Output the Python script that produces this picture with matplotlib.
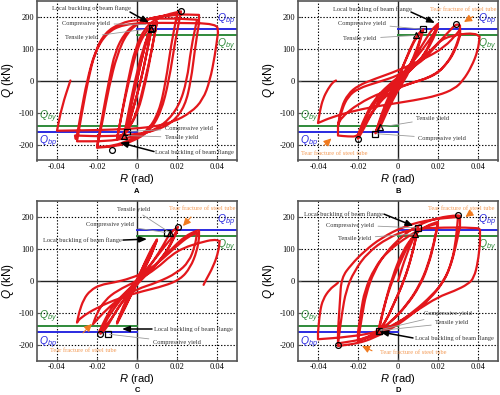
import matplotlib
matplotlib.use('Agg')
import matplotlib.pyplot as plt
from matplotlib.path import Path
from matplotlib.patches import PathPatch

plt.rcParams['mathtext.fontset'] = 'custom'
plt.rcParams['mathtext.it'] = 'Liberation Sans:italic'
plt.rcParams['mathtext.rm'] = 'Liberation Sans'
plt.rcParams['mathtext.bf'] = 'Liberation Sans:bold'

SERIF = 'Liberation Serif'
SANS = 'Liberation Sans'

x_ticks = [-0.04, -0.02, 0, 0.02, 0.04]
x_tick_labels = ['-0.04', '-0.02', '0', '0.02', '0.04']
y_ticks = [-200, -100, 0, 100, 200]
y_tick_labels = ['-200', '-100', '0', '100', '200']
Q_bp = 160
Q_by = 142

# ---- hysteresis paths (R rad, Q kN) ----
A_path = [
    (0, 0), (0.003, 85), (0.006, 155), (0.0075, 167),
    (0.005, 90), (0.002, 0), (-0.002, -90), (-0.005, -160),
    (-0.003, -80), (0.0, 0), (0.003, 85), (0.0065, 160), (0.0075, 170),
    (0.005, 90), (0.002, 0), (-0.002, -90), (-0.005, -155), (-0.0065, -172),
    (-0.004, -90), (-0.001, 0), (0.003, 100), (0.007, 165), (0.01, 185),
    (0.0075, 100), (0.004, 0), (0.0, -100), (-0.005, -160), (-0.01, -185),
    (-0.0075, -100), (-0.004, 0), (0.0, 100), (0.005, 160), (0.01, 183),
    (0.0075, 100), (0.0045, 0), (0.0005, -100), (-0.005, -158), (-0.01, -182),
    (-0.0075, -100), (-0.0045, 0), (-0.001, 100), (0.004, 165), (0.01, 195), (0.016, 208), (0.022, 216),
    (0.019, 120), (0.016, 0), (0.012, -100), (0.006, -160), (-0.002, -190), (-0.01, -205), (-0.02, -210),
    (-0.017, -120), (-0.014, -20), (-0.01, 80), (-0.005, 150), (0.002, 185), (0.01, 200), (0.02, 205),
    (0.017, 110), (0.0145, 0), (0.011, -100), (0.005, -160), (-0.003, -185), (-0.012, -205), (-0.02, -208),
    (-0.017, -100), (-0.014, 0), (-0.011, 90), (-0.006, 150), (0.0, 180), (0.01, 200), (0.02, 207), (0.031, 205),
    (0.031, 180), (0.029, 100), (0.027, 0), (0.024, -80), (0.018, -130), (0.01, -155), (0.0, -168),
    (-0.015, -175), (-0.031, -172), (-0.0305, -190),
    (-0.028, -100), (-0.025, 0), (-0.021, 90), (-0.016, 150), (-0.008, 180), (0.0, 190), (0.015, 195), (0.03, 190),
    (0.027, 100), (0.025, 0), (0.021, -80), (0.014, -135), (0.005, -165), (-0.005, -180), (-0.015, -190), (-0.03, -190),
    (-0.0275, -100), (-0.0245, 0), (-0.021, 90), (-0.015, 150), (-0.007, 175), (0.005, 180), (0.02, 180), (0.04, 178),
    (0.0405, 150), (0.039, 80), (0.0365, 0), (0.033, -60), (0.027, -100), (0.018, -130), (0.008, -145),
    (-0.005, -152), (-0.02, -155), (-0.04, -157),
    (-0.0375, -80), (-0.0333, 0),
]

B_path = [
    (0, 0), (0.004, 70), (0.0092, 141), (0.0127, 160),
    (0.010, 100), (0.006, 30), (0.0, -30), (-0.005, -90), (-0.0089, -146), (-0.0113, -165),
    (-0.008, -100), (-0.004, -40), (0.0, 10), (0.005, 80), (0.009, 135), (0.0125, 158),
    (0.009, 90), (0.004, 20), (-0.002, -40), (-0.007, -110), (-0.011, -160),
    (-0.008, -110), (-0.004, -50), (0.002, 10), (0.008, 70), (0.013, 120), (0.017, 160), (0.02, 177),
    (0.017, 130), (0.013, 80), (0.008, 40), (0.0, 0), (-0.007, -40), (-0.013, -100), (-0.017, -150), (-0.02, -182),
    (-0.017, -130), (-0.013, -80), (-0.006, -30), (0.002, 20), (0.009, 70), (0.015, 120), (0.02, 168),
    (0.017, 120), (0.012, 70), (0.005, 25), (-0.003, -20), (-0.01, -70), (-0.016, -130), (-0.02, -170),
    (-0.017, -120), (-0.012, -60), (-0.005, -15), (0.004, 30), (0.012, 70), (0.019, 110), (0.025, 150),
    (0.029, 177), (0.031, 172),
    (0.031, 146), (0.0283, 94), (0.0233, 42), (0.0167, 10), (0.005, -10), (-0.005, -40), (-0.012, -90),
    (-0.017, -140), (-0.02, -175), (-0.025, -175), (-0.03, -172),
    (-0.03, -140), (-0.0283, -83), (-0.025, -42), (-0.02, -16), (-0.0117, 5), (0.0, 31), (0.0133, 68),
    (0.0233, 104), (0.03, 150), (0.031, 160),
    (0.031, 140), (0.029, 100), (0.025, 55), (0.018, 15), (0.005, -12), (-0.008, -36), (-0.02, -73),
    (-0.0283, -115), (-0.03, -140),
    (-0.028, -90), (-0.025, -50), (-0.02, -25), (-0.01, -5), (0.0, 15), (0.01, 50), (0.0167, 90),
    (0.0217, 130), (0.03, 144), (0.0383, 148), (0.0408, 137), (0.04, 94), (0.0367, 42), (0.0325, 0),
    (0.0283, -26), (0.02, -47), (0.0083, -62), (-0.0083, -78), (-0.0217, -94), (-0.0333, -115), (-0.04, -133),
    (-0.039, -94), (-0.0375, -57), (-0.035, -26), (-0.0325, -5), (-0.031, 0),
]

C_path = [
    (0, 0), (0.004, 60), (0.008, 110), (0.01, 130),
    (0.007, 80), (0.003, 30), (-0.002, -30), (-0.006, -80), (-0.01, -130),
    (-0.007, -80), (-0.003, -30), (0.002, 30), (0.006, 80), (0.01, 128),
    (0.007, 80), (0.003, 30), (-0.002, -30), (-0.006, -85), (-0.01, -133),
    (-0.007, -90), (-0.003, -40), (0.002, 10), (0.008, 60), (0.013, 110), (0.0165, 150), (0.0205, 169),
    (0.018, 130), (0.014, 85), (0.008, 40), (0.0, -10), (-0.007, -60), (-0.012, -110), (-0.0155, -150), (-0.0183, -165),
    (-0.016, -130), (-0.012, -90), (-0.006, -40), (0.001, 10), (0.008, 60), (0.014, 110), (0.02, 155),
    (0.017, 115), (0.013, 75), (0.006, 30), (-0.002, -20), (-0.009, -80), (-0.014, -130), (-0.019, -160),
    (-0.016, -120), (-0.012, -75), (-0.005, -30), (0.003, 15), (0.011, 60), (0.018, 105), (0.024, 140),
    (0.03, 158), (0.031, 158),
    (0.031, 135), (0.03, 94), (0.0267, 42), (0.0217, 5), (0.0133, -16), (0.0033, -31), (-0.0083, -52),
    (-0.02, -83), (-0.0283, -115), (-0.03, -130),
    (-0.029, -99), (-0.0267, -57), (-0.0233, -29), (-0.0183, -12), (-0.0117, -5), (-0.0033, 8), (0.005, 30),
    (0.013, 70), (0.02, 110), (0.026, 140), (0.03, 150),
    (0.029, 110), (0.026, 60), (0.02, 25), (0.01, -5), (0.0, -25), (-0.01, -60), (-0.017, -100), (-0.022, -135),
    (-0.02, -100), (-0.016, -60), (-0.01, -30), (0.0, 0), (0.01, 40), (0.017, 80), (0.0233, 104),
    (0.0317, 120), (0.0383, 130), (0.0413, 125), (0.0408, 94), (0.0383, 47), (0.0342, 0), (0.0333, -12),
]

D_path = [
    (0, 0), (0.004, 80), (0.0087, 147), (0.01, 166),
    (0.007, 80), (0.003, 0), (-0.002, -70), (-0.006, -125), (-0.0095, -155),
    (-0.007, -80), (-0.003, 0), (0.002, 70), (0.006, 125), (0.01, 163),
    (0.007, 80), (0.003, 0), (-0.002, -70), (-0.006, -125), (-0.01, -158),
    (-0.007, -80), (-0.003, 10), (0.002, 90), (0.008, 145), (0.014, 172), (0.02, 185),
    (0.018, 120), (0.015, 50), (0.011, -10), (0.005, -70), (-0.003, -125), (-0.011, -165), (-0.02, -185),
    (-0.02, -160), (-0.0185, -94), (-0.0167, -31), (-0.0117, 42), (-0.005, 94), (0.005, 140), (0.013, 168), (0.02, 180),
    (0.018, 115), (0.015, 45), (0.011, -15), (0.004, -80), (-0.004, -130), (-0.012, -168), (-0.02, -188),
    (-0.018, -110), (-0.016, -40), (-0.012, 30), (-0.006, 90), (0.002, 140), (0.01, 175), (0.02, 198),
    (0.03, 206), (0.031, 203),
    (0.031, 172), (0.029, 110), (0.026, 40), (0.022, -10), (0.016, -55), (0.008, -100), (-0.002, -145),
    (-0.012, -178), (-0.02, -195), (-0.03, -203),
    (-0.03, -156), (-0.029, -60), (-0.0283, 10), (-0.0233, 52), (-0.0167, 94), (-0.0083, 135), (0.0033, 172),
    (0.0167, 193), (0.03, 200),
    (0.029, 130), (0.027, 60), (0.023, 0), (0.017, -45), (0.008, -95), (-0.002, -140), (-0.015, -180), (-0.03, -195),
    (-0.028, -100), (-0.026, -30), (-0.022, 30), (-0.015, 90), (-0.005, 135), (0.005, 160), (0.0167, 167),
    (0.04, 167), (0.041, 160),
    (0.041, 120), (0.04, 60), (0.038, 10), (0.035, -10), (0.0283, -31), (0.02, -50), (0.01, -90), (0.0, -130),
    (-0.01, -160), (-0.025, -175), (-0.04, -182),
    (-0.04, -161), (-0.039, -94), (-0.0375, -57), (-0.0342, -26), (-0.0308, -10), (-0.03, -5),
]

# markers: (R, Q)
A_sq = [(0.0075, 164), (-0.005, -162)]
A_tri = [(0.007, 160), (-0.0065, -172)]
A_circ = [(0.022, 216), (-0.0125, -216)]
B_sq = [(0.0127, 160), (-0.0113, -166)]
B_tri = [(0.0092, 141), (-0.0089, -146)]
B_circ = [(0.029, 178), (-0.02, -182)]
C_sq = [(0.015, 151), (-0.0147, -167)]
C_tri = [(0.0165, 151)]
C_circ = [(0.0205, 169), (-0.0183, -165)]
D_sq = [(0.010, 166), (-0.0093, -155)]
D_tri = [(0.0087, 147), (-0.0095, -157)]
D_circ = [(0.03, 206), (-0.03, -200)]

RED = '#e3171c'
BLUE = '#2a2ae0'
GREEN = '#2f8a3a'
TXT = '#333333'
ORANGE_T = '#f39a55'
ORANGE_A = '#f07a1e'

fig = plt.figure(figsize=(5, 3.95), dpi=100)
W, H = 500, 395


def make_ax(x0, ytop):
    return fig.add_axes([x0 / W, 1 - (ytop + 160) / H, 200 / W, 160 / H])


def smooth_path(pts):
    """Quadratic-Bezier rendering of the polyline; load reversals are kept sharp."""
    verts = [pts[0]]
    codes = [Path.MOVETO]
    n = len(pts)
    for i in range(1, n - 1):
        p0, p1, p2 = pts[i - 1], pts[i], pts[i + 1]
        d1 = p1[0] - p0[0]
        d2 = p2[0] - p1[0]
        corner = d1 * d2 <= 0
        if corner:
            verts.append(p1)
            codes.append(Path.LINETO)
        else:
            m1 = ((p0[0] + p1[0]) / 2, (p0[1] + p1[1]) / 2)
            m2 = ((p1[0] + p2[0]) / 2, (p1[1] + p2[1]) / 2)
            verts += [m1, p1, m2]
            codes += [Path.LINETO, Path.CURVE3, Path.CURVE3]
    verts.append(pts[-1])
    codes.append(Path.LINETO)
    return Path(verts, codes)


def base(ax, path, sq, tri, circ):
    ax.set_xlim(-0.05, 0.05)
    ax.set_ylim(-250, 250)
    ax.set_xticks(x_ticks)
    ax.set_xticklabels(x_tick_labels, fontfamily=SERIF, fontsize=6)
    ax.set_yticks(y_ticks)
    ax.set_yticklabels(y_tick_labels, fontfamily=SERIF, fontsize=6)
    ax.tick_params(direction='in', length=2, width=0.8, color='#555555', pad=2)
    ax.tick_params(axis='x', pad=1.5)
    for s in ax.spines.values():
        s.set_color('#555555')
        s.set_linewidth(1.2)
    for t in x_ticks:
        if t != 0:
            ax.axvline(t, color='k', ls=(0, (1.2, 1.6)), lw=0.8, zorder=1)
    for t in y_ticks:
        if t != 0:
            ax.axhline(t, color='k', ls=(0, (1.2, 1.6)), lw=0.8, zorder=1)
    ax.axvline(0, color='#222222', lw=1.0, zorder=1)
    ax.axhline(0, color='#222222', lw=1.0, zorder=1)
    # reference lines
    ax.plot([0, 0.05], [Q_bp, Q_bp], color=BLUE, lw=1.4, zorder=2)
    ax.plot([0, 0.05], [Q_by, Q_by], color=GREEN, lw=1.4, zorder=2)
    ax.plot([-0.05, 0], [-Q_bp, -Q_bp], color=BLUE, lw=1.4, zorder=2)
    ax.plot([-0.05, 0], [-Q_by, -Q_by], color=GREEN, lw=1.4, zorder=2)
    ax.text(0.049, Q_bp + 4, r'$Q_{bp}$', color=BLUE, fontsize=7.5, ha='right', va='bottom')
    ax.text(0.049, Q_by - 6, r'$Q_{by}$', color=GREEN, fontsize=7.5, ha='right', va='top')
    ax.text(-0.049, -Q_by + 4, r'$Q_{by}$', color=GREEN, fontsize=7.5, ha='left', va='bottom')
    ax.text(-0.049, -Q_bp - 6, r'$Q_{bp}$', color=BLUE, fontsize=7.5, ha='left', va='top')
    ax.add_patch(PathPatch(smooth_path(path), fill=False, edgecolor=RED, lw=1.6,
                           joinstyle='round', capstyle='round', zorder=3))
    for pts, m in ((sq, 's'), (tri, '^'), (circ, 'o')):
        ax.plot([p[0] for p in pts], [p[1] for p in pts], ls='none', marker=m, ms=4.2,
                mfc='none', mec='k', mew=0.9, zorder=5)


def note(ax, text, xy, xytext, ha='left'):
    ax.annotate(text, xy=xy, xytext=xytext, fontsize=4.6, fontfamily=SERIF, color=TXT,
                ha=ha, va='center', zorder=6,
                arrowprops=dict(arrowstyle='-', color='#9a9a9a', lw=0.6, shrinkA=1, shrinkB=1))


def blk(ax, text, xy, xytext, ha='left', tail=None):
    ax.text(xytext[0], xytext[1], text, fontsize=4.6, fontfamily=SERIF, color=TXT, ha=ha, va='center', zorder=6)
    ax.annotate('', xy=xy, xytext=tail, zorder=6,
                arrowprops=dict(arrowstyle='-|>,head_length=0.45,head_width=0.18', color='k', lw=1.1,
                                shrinkA=0, shrinkB=0))


def tear(ax, xytext, xy, tail):
    ax.text(xytext[0], xytext[1], 'Tear fracture of steel tube', fontsize=4.6, fontfamily=SERIF,
            color=ORANGE_T, ha='left', va='center', zorder=6)
    ax.annotate('', xy=xy, xytext=tail, zorder=6,
                arrowprops=dict(arrowstyle='-|>,head_length=0.45,head_width=0.22', color=ORANGE_A, lw=0.8,
                                shrinkA=0, shrinkB=0))


axA = make_ax(37, 0.5)
axB = make_ax(298, 0.5)
axC = make_ax(37, 201)
axD = make_ax(298, 201)

base(axA, A_path, A_sq, A_tri, A_circ)
base(axB, B_path, B_sq, B_tri, B_circ)
base(axC, C_path, C_sq, C_tri, C_circ)
base(axD, D_path, D_sq, D_tri, D_circ)

# ---- Panel A notes ----
blk(axA, 'Local buckling of beam flange', (0.006, 181), (-0.0425, 225), tail=(-0.0035, 214))
note(axA, 'Compressive yield', (0.005, 175), (-0.0375, 178))
note(axA, 'Tensile yield', (0.004, 160), (-0.036, 134))
note(axA, 'Compressive yield', (-0.004, -159), (0.014, -150))
note(axA, 'Tensile yield', (-0.005, -172), (0.014, -178))
blk(axA, 'Local buckling of beam flange', (-0.0085, -194), (0.009, -225), tail=(0.0085, -222))

# ---- Panel B notes ----
blk(axB, 'Local buckling of beam flange', (0.0185, 180), (-0.0324, 222), tail=(0.0065, 214))
tear(axB, (0.0162, 222), (0.033, 183), (0.0375, 200))
note(axB, 'Compressive yield', (0.0127, 160), (-0.030, 178))
note(axB, 'Tensile yield', (0.0092, 141), (-0.0273, 131))
note(axB, 'Tensile yield', (-0.0089, -146), (0.0092, -119))
note(axB, 'Compressive yield', (-0.0113, -166), (0.0102, -181))
tear(axB, (-0.0484, -228), (-0.0333, -181), (-0.037, -203))

# ---- Panel C notes ----
note(axC, 'Tensile yield', (0.0165, 151), (-0.010, 225))
tear(axC, (0.016, 225), (0.023, 172), (0.027, 200))
note(axC, 'Compressive yield', (0.015, 151), (-0.0255, 178))
blk(axC, 'Local buckling of beam flange', (0.005, 131), (-0.047, 128), tail=(-0.007, 128))
blk(axC, 'Local buckling of beam flange', (-0.0075, -150), (0.0085, -150), tail=(0.0075, -150))
note(axC, 'Compressive yield', (-0.0145, -166), (0.008, -191))
tear(axC, (-0.0435, -216), (-0.0225, -134), (-0.027, -162))

# ---- Panel D notes ----
blk(axD, 'Local buckling of beam flange', (0.0077, 172), (-0.0468, 209), tail=(-0.007, 209))
tear(axD, (0.0152, 228), (0.0337, 200), (0.037, 215))
note(axD, 'Compressive yield', (0.010, 166), (-0.036, 175))
note(axD, 'Tensile yield', (0.0087, 147), (-0.030, 134))
note(axD, 'Compressive yield', (-0.0093, -153), (0.013, -103))
note(axD, 'Tensile yield', (-0.0095, -155), (0.0187, -131))
blk(axD, 'Local buckling of beam flange', (-0.0089, -159), (0.0087, -178), tail=(0.0075, -178))
tear(axD, (-0.0089, -222), (-0.018, -203), (-0.013, -218))

# axis labels and panel letters
for (xc, yc_lab, yc_let, letter) in ((137, 179, 192, 'A'), (398, 179, 192, 'B'),
                                      (137, 379, 390, 'C'), (398, 379, 390, 'D')):
    fig.text(xc / W, 1 - yc_lab / H, r'$R$ (rad)', fontfamily=SANS, fontsize=8, ha='center', va='center')
    fig.text(xc / W, 1 - yc_let / H, letter, fontfamily=SANS, fontsize=5.5, fontweight='bold',
             ha='center', va='center')
for (xc, yc) in ((8, 80), (269, 80), (8, 281), (269, 281)):
    fig.text(xc / W, 1 - yc / H, r'$Q$ (kN)', fontfamily=SANS, fontsize=8.5, rotation=90,
             ha='center', va='center')

fig.savefig('out.png', dpi=100)
